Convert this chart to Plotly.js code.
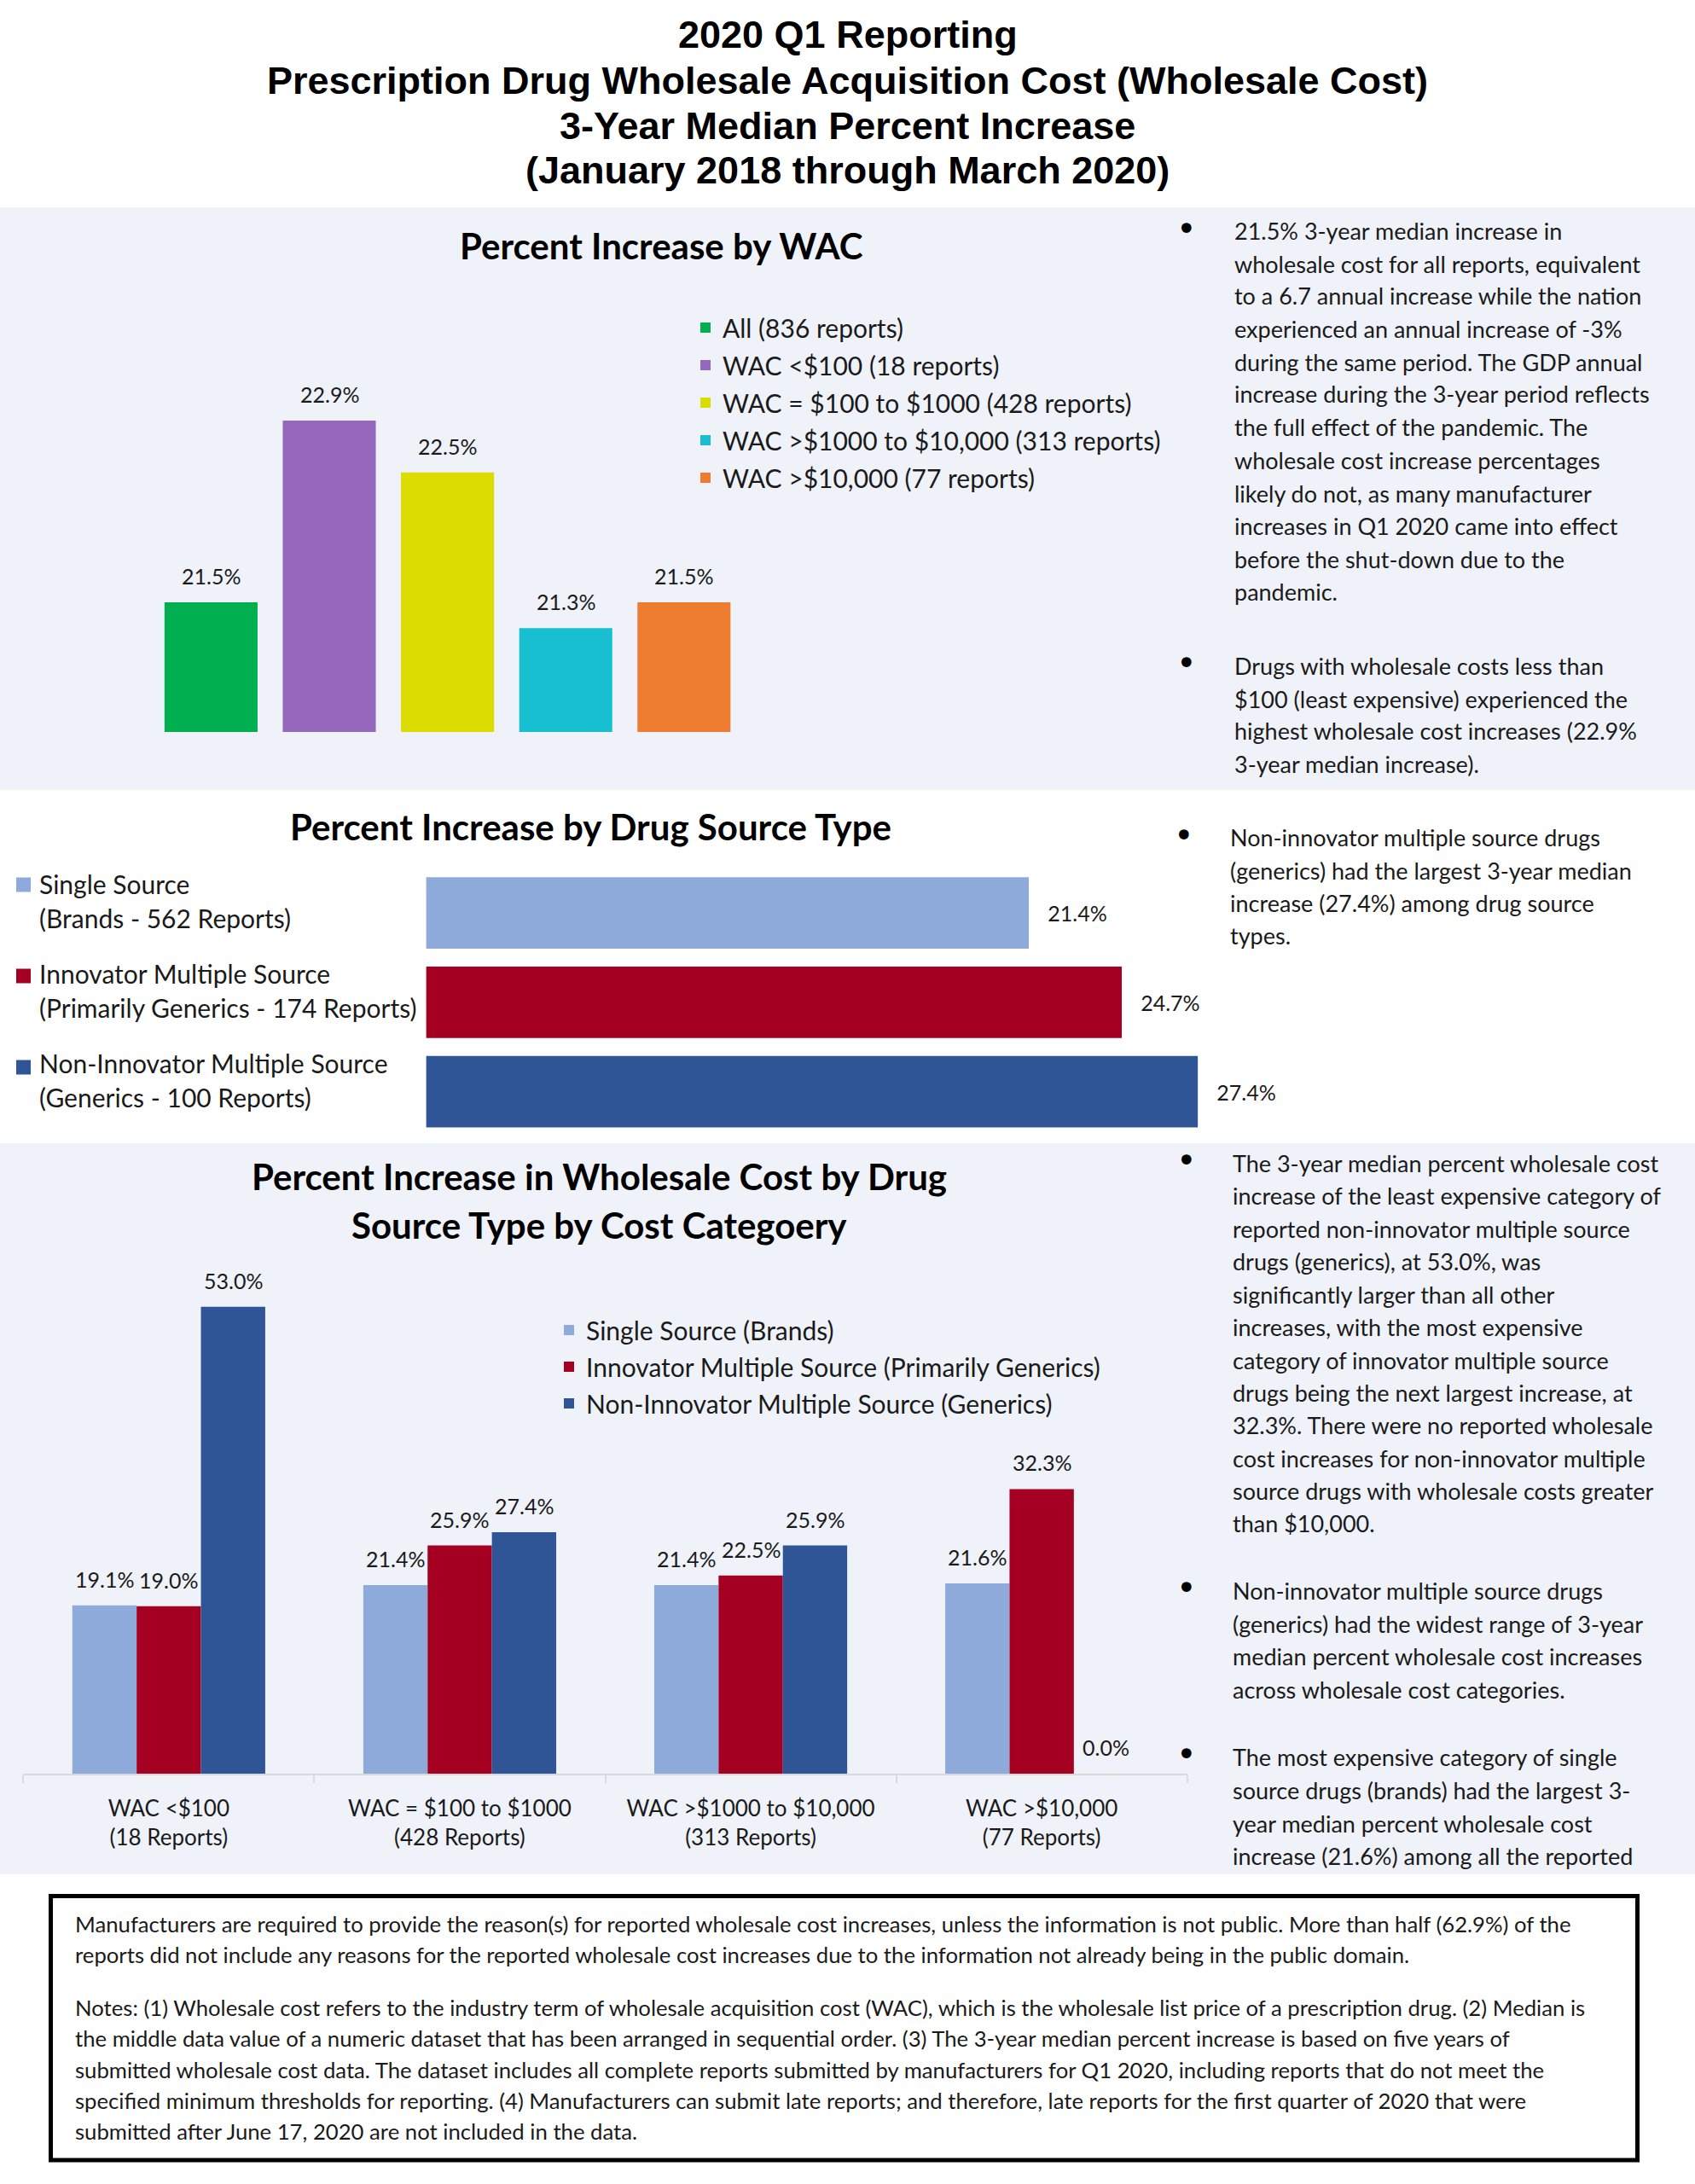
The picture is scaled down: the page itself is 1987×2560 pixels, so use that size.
<!DOCTYPE html>
<html><head><meta charset="utf-8">
<script src="https://cdn.plot.ly/plotly-3.0.1.min.js"></script>
<style>html,body{margin:0;padding:0;background:#fff}</style>
</head><body>
<div id="chart" style="width:1987px;height:2560px"></div>
<script>
// ---------------- data ----------------
const wacGroups = ['All', 'WAC <$100', 'WAC = $100 to $1000', 'WAC >$1000 to $10,000', 'WAC >$10,000'];
const wacReports = [836, 18, 428, 313, 77];
const wacValues = [21.5, 22.9, 22.5, 21.3, 21.5];

const sourceTypes = ['Single Source', 'Innovator Multiple Source', 'Non-Innovator Multiple Source'];
const sourceNotes = ['Brands - 562 Reports', 'Primarily Generics - 174 Reports', 'Generics - 100 Reports'];
const sourceValues = [21.4, 24.7, 27.4];

const costCategories = ['WAC <$100', 'WAC = $100 to $1000', 'WAC >$1000 to $10,000', 'WAC >$10,000'];
const costReports = [18, 428, 313, 77];
const seriesNames = ['Single Source (Brands)', 'Innovator Multiple Source (Primarily Generics)', 'Non-Innovator Multiple Source (Generics)'];
const singleSource = [19.1, 21.4, 21.4, 21.6];
const innovatorMultiple = [19.0, 25.9, 22.5, 32.3];
const nonInnovatorMultiple = [53.0, 27.4, 25.9, 0.0];

// ---------------- styles ----------------
const wacColors = ['#00b050', '#9668bd', '#dcdc00', '#18bfd0', '#ee7d31'];
const sourceColors = ['#8eaadb', '#a50021', '#2f5597'];
const W = 1987, H = 2560;
const px = x => x / W, py = y => 1 - y / H;
const esc = s => s.replace(/</g, '&lt;').replace(/>/g, '&gt;');
const BODY = 'Lato, Carlito, sans-serif';
const INK = '#1a1a1a';
const labelFont = {family: BODY, size: 25, color: INK};
const BARGAP = 0.337;
const LABEL_LIFT = 31;

const traces = [];
const ann = [];
// Chart 1
wacGroups.forEach((g, i) => {
  traces.push({
    type: 'bar', x: [g], y: [wacValues[i]],
    name: esc(g) + ' (' + wacReports[i] + ' reports)',
    marker: {color: wacColors[i]}, width: 0.787, offset: -0.3935,
    xaxis: 'x', yaxis: 'y', legend: 'legend', legendgroup: 'w' + i,
    hoverinfo: 'skip'
  });
  ann.push({xref: 'x', yref: 'y', x: i, y: wacValues[i], text: wacValues[i].toFixed(1) + '%',
    showarrow: false, xanchor: 'center', yanchor: 'middle', yshift: LABEL_LIFT, font: labelFont});
});
// Chart 2
traces.push({
  type: 'bar', orientation: 'h', y: sourceTypes, x: sourceValues,
  marker: {color: sourceColors}, width: 0.8, offset: -0.4,
  xaxis: 'x2', yaxis: 'y2', showlegend: false,
  texttemplate: '\u00a0\u00a0\u00a0%{x:.1f}%', textposition: 'outside', textfont: labelFont,
  cliponaxis: false, constraintext: 'none', hoverinfo: 'skip'
});
// Chart 3
const slot = (1 - BARGAP) / 3;
[singleSource, innovatorMultiple, nonInnovatorMultiple].forEach((vals, j) => {
  traces.push({
    type: 'bar', x: costCategories, y: vals, name: seriesNames[j],
    marker: {color: sourceColors[j]}, xaxis: 'x3', yaxis: 'y3',
    legend: 'legend2', legendgroup: 's' + j, hoverinfo: 'skip'
  });
  vals.forEach((v, i) => ann.push({xref: 'x3', yref: 'y3', x: i + (j - 1) * slot, y: v,
    text: v.toFixed(1) + '%', showarrow: false, xanchor: 'center', yanchor: 'middle',
    yshift: LABEL_LIFT, font: labelFont}));
});

// ---------------- text ----------------
function txt(x, y, text, size, extra) {
  ann.push(Object.assign({
    xref: 'paper', yref: 'paper', x: px(x), y: py(y), text: text,
    showarrow: false, xanchor: 'left', yanchor: 'middle',
    font: {family: BODY, size: size, color: INK}
  }, extra || {}));
}
// main title
const titleLines = ['2020 Q1 Reporting', 'Prescription Drug Wholesale Acquisition Cost (Wholesale Cost)',
  '3-Year Median Percent Increase', '(January 2018 through March 2020)'];
const titleY = [40.5, 94, 147.5, 199];
titleLines.forEach((t, i) => txt(993.5, titleY[i], '<b>' + t + '</b>', 45,
  {xanchor: 'center', font: {family: 'Liberation Sans, Arial, sans-serif', size: 45, color: '#000'}}));
// chart titles
const ctFont = {family: BODY, size: 42, color: '#000'};
txt(775, 288, '<b>Percent Increase by WAC</b>', 42, {xanchor: 'center', font: ctFont});
txt(692, 969, '<b>Percent Increase by Drug Source Type</b>', 42, {xanchor: 'center', font: ctFont});
txt(702, 1379, '<b>Percent Increase in Wholesale Cost by Drug</b>', 42, {xanchor: 'center', font: ctFont});
txt(702, 1436, '<b>Source Type by Cost Categoery</b>', 42, {xanchor: 'center', font: ctFont});

// chart 2 category labels (legend-style)
sourceTypes.forEach((s, i) => {
  ann.push({xref: 'paper', yref: 'y2', x: px(44), y: s, text: s, showarrow: false,
    xanchor: 'left', yanchor: 'middle', yshift: 34, font: {family: BODY, size: 30, color: INK}});
  ann.push({xref: 'paper', yref: 'y2', x: px(44), y: s, text: '(' + sourceNotes[i] + ')', showarrow: false,
    xanchor: 'left', yanchor: 'middle', yshift: -6, font: {family: BODY, size: 30, color: INK}});
});

// bullet blocks
function block(bx, tx, ys, lines) {
  txt(bx, ys[0] - 3, '\u2022', 40, {xanchor: 'center', font: {family: 'DejaVu Sans', size: 40, color: '#000'}});
  lines.forEach((l, i) => txt(tx, ys[i], l, 27));
}
const b1 = ['21.5% 3-year median increase in', 'wholesale cost for all reports, equivalent',
  'to a 6.7 annual increase while the nation', 'experienced an annual increase of -3%',
  'during the same period. The GDP annual', 'increase during the 3-year period reflects',
  'the full effect of the pandemic. The', 'wholesale cost increase percentages',
  'likely do not, as many manufacturer', 'increases in Q1 2020 came into effect',
  'before the shut-down due to the', 'pandemic.'];
block(1391, 1445, [271, 309, 347, 386, 424, 462, 501, 539, 578, 616, 655, 693], b1);
const b2 = ['Drugs with wholesale costs less than', '$100 (least expensive) experienced the',
  'highest wholesale cost increases (22.9%', '3-year median increase).'];
block(1391, 1445, [780, 819, 857, 895], b2);
const b3 = ['Non-innovator multiple source drugs', '(generics) had the largest 3-year median',
  'increase (27.4%) among drug source', 'types.'];
block(1388, 1440, [982, 1020, 1058, 1096], b3);
const b4 = ['The 3-year median percent wholesale cost', 'increase of the least expensive category of',
  'reported non-innovator multiple source', 'drugs (generics), at 53.0%, was',
  'significantly larger than all other', 'increases, with the most expensive',
  'category of innovator multiple source', 'drugs being the next largest increase, at',
  '32.3%. There were no reported wholesale', 'cost increases for non-innovator multiple',
  'source drugs with wholesale costs greater', 'than $10,000.'];
block(1391, 1443, [1363, 1401, 1440, 1478, 1517, 1555, 1594, 1632, 1670, 1709, 1747, 1785], b4);
const b5 = ['Non-innovator multiple source drugs', '(generics) had the widest range of 3-year',
  'median percent wholesale cost increases', 'across wholesale cost categories.'];
block(1391, 1443, [1864, 1903, 1941, 1980], b5);
const b6 = ['The most expensive category of single', 'source drugs (brands) had the largest 3-',
  'year median percent wholesale cost', 'increase (21.6%) among all the reported'];
block(1391, 1443, [2059, 2098, 2137, 2175], b6);

// notes box
const notes = ['Manufacturers are required to provide the reason(s) for reported wholesale cost increases, unless the information is not public. More than half (62.9%) of the',
  'reports did not include any reasons for the reported wholesale cost increases due to the information not already being in the public domain.',
  'Notes: (1) Wholesale cost refers to the industry term of wholesale acquisition cost (WAC), which is the wholesale list price of a prescription drug. (2) Median is',
  'the middle data value of a numeric dataset that has been arranged in sequential order. (3) The 3-year median percent increase is based on five years of',
  'submitted wholesale cost data. The dataset includes all complete reports submitted by manufacturers for Q1 2020, including reports that do not meet the',
  'specified minimum thresholds for reporting. (4) Manufacturers can submit late reports; and therefore, late reports for the first quarter of 2020 that were',
  'submitted after June 17, 2020 are not included in the data.'];
const notesY = [2255, 2291, 2353, 2389, 2426, 2462, 2498];
notes.forEach((l, i) => txt(86, notesY[i], l, 25.7));

// ---------------- shapes ----------------
const shapes = [
  {type: 'rect', xref: 'paper', yref: 'paper', x0: 0, x1: 1, y0: py(926), y1: py(243), fillcolor: '#eff2f9', line: {width: 0}, layer: 'below'},
  {type: 'rect', xref: 'paper', yref: 'paper', x0: 0, x1: 1, y0: py(2197), y1: py(1340), fillcolor: '#eff2f9', line: {width: 0}, layer: 'below'},
  {type: 'rect', xref: 'paper', yref: 'paper', x0: px(59.5), x1: px(1919.5), y0: py(2532), y1: py(2222.5), fillcolor: 'rgba(0,0,0,0)', line: {width: 5, color: '#000'}}
];
// chart 2 legend swatches
const swY = [1037, 1144, 1251];
swY.forEach((y, i) => shapes.push({type: 'rect', xref: 'paper', yref: 'paper', x0: px(19), x1: px(36),
  y0: py(y + 8.5), y1: py(y - 8.5), fillcolor: sourceColors[i], line: {width: 0}}));

const hidden = {visible: false, fixedrange: true};
const layout = {
  width: W, height: H, margin: {l: 0, r: 0, t: 0, b: 0},
  paper_bgcolor: '#ffffff', plot_bgcolor: 'rgba(0,0,0,0)',
  barmode: 'group', bargap: BARGAP, bargroupgap: 0,
  font: {family: BODY, color: INK},
  xaxis: Object.assign({domain: [px(178.1), px(871.1)], type: 'category', categoryarray: wacGroups, range: [-0.5, 4.5], anchor: 'y'}, hidden),
  yaxis: Object.assign({domain: [py(858), py(401.7)], range: [20.5, 23.5], anchor: 'x'}, hidden),
  xaxis2: Object.assign({domain: [px(499.4), px(1490)], range: [0, 30], anchor: 'y2'}, hidden),
  yaxis2: Object.assign({domain: [py(1332), py(1017.7)], type: 'category', categoryarray: sourceTypes, range: [2.5, -0.5], anchor: 'x2'}, hidden),
  xaxis3: {domain: [px(27.3), px(1391.7)], anchor: 'y3', type: 'category', categoryarray: costCategories,
    range: [-0.5, 3.5], tickvals: costCategories,
    ticktext: costCategories.map((c, i) => esc(c) + '<br>(' + costReports[i] + ' Reports)'),
    ticks: 'outside', tickson: 'boundaries', ticklen: 9, tickwidth: 2, tickcolor: '#d9d9d9',
    showline: true, linecolor: '#d9d9d9', linewidth: 2, showgrid: false, zeroline: false,
    tickfont: {family: BODY, size: 26, color: INK}, ticklabelstandoff: 17, fixedrange: true},
  yaxis3: Object.assign({domain: [py(2079), py(1480)], range: [0, 58], anchor: 'x3'}, hidden),
  legend: {x: px(807), y: py(358), xanchor: 'left', yanchor: 'top', bgcolor: 'rgba(0,0,0,0)',
    font: {family: BODY, size: 30, color: INK}, traceorder: 'grouped', tracegroupgap: 2, itemclick: false},
  legend2: {x: px(647), y: py(1533), xanchor: 'left', yanchor: 'top', bgcolor: 'rgba(0,0,0,0)',
    font: {family: BODY, size: 30, color: INK}, traceorder: 'grouped', tracegroupgap: 1, itemclick: false},
  annotations: ann, shapes: shapes, showlegend: true
};
Plotly.newPlot('chart', traces, layout, {staticPlot: true, displayModeBar: false});
</script>
</body></html>
